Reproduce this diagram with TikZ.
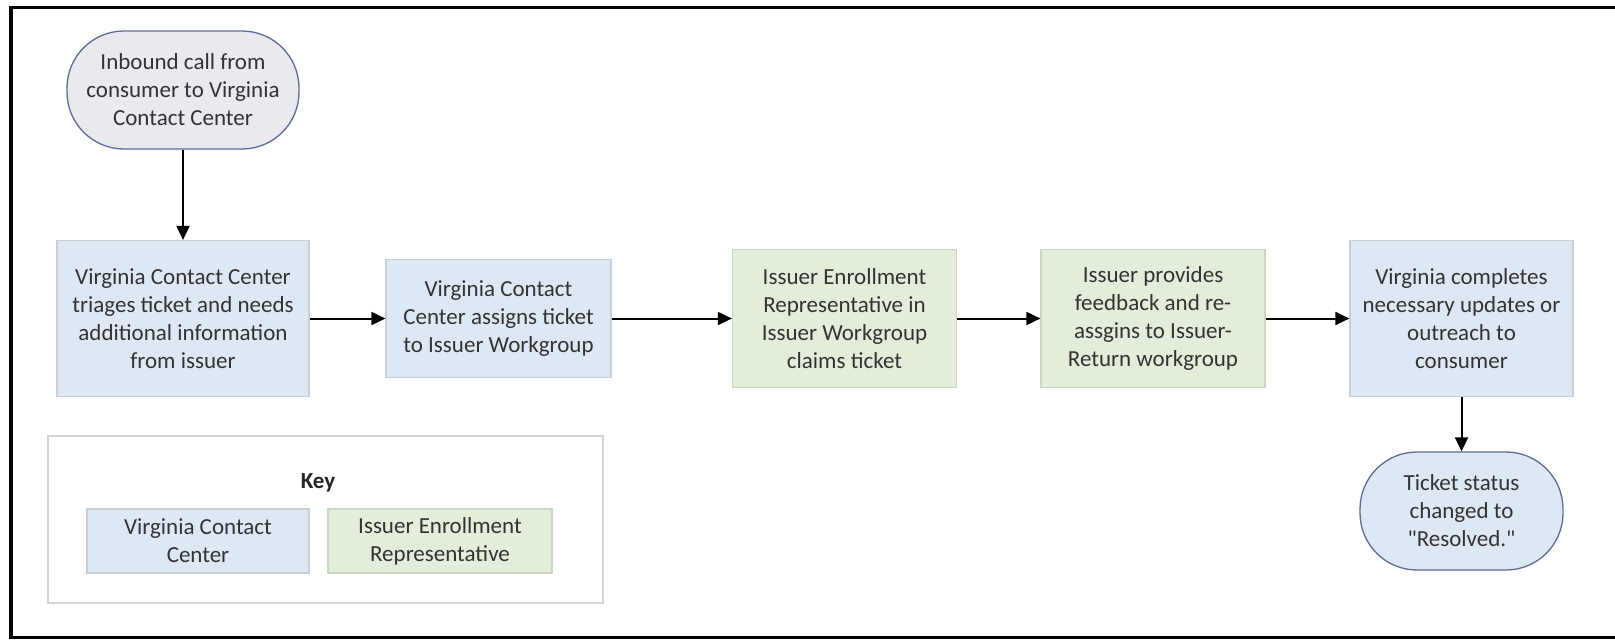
\documentclass[tikz,border=0pt]{standalone}
\usepackage{fontspec}
\setmainfont{Carlito}
\usetikzlibrary{arrows.meta}
\definecolor{txt}{HTML}{333333}
\definecolor{bluefill}{HTML}{DEE8F4}
\definecolor{blueedge}{HTML}{C9CFD6}
\definecolor{greenfill}{HTML}{E2EDDA}
\definecolor{greenedge}{HTML}{CBD5C3}
\definecolor{startfill}{HTML}{E9E9EF}
\definecolor{termedge}{HTML}{5C6C94}
\definecolor{keyedge}{HTML}{D4D4D4}
\tikzset{
  boxtext/.style={font=\fontsize{23}{28}\selectfont, text=txt, align=center, inner sep=0pt},
  bluebox/.style={boxtext, rectangle, fill=bluefill, draw=blueedge, line width=1.2pt},
  greenbox/.style={boxtext, rectangle, fill=greenfill, draw=greenedge, line width=1.2pt},
  termstart/.style={boxtext, rectangle, rounded corners=57pt, fill=startfill, draw=termedge, line width=1.3pt},
  termend/.style={boxtext, rectangle, rounded corners=57pt, fill=bluefill, draw=termedge, line width=1.3pt},
  flow/.style={line width=2pt, -{Triangle[length=14pt,width=13pt]}},
}
\begin{document}
\begin{tikzpicture}[x=1pt,y=-1pt]
\useasboundingbox (0,0) rectangle (1615,640);
\fill[white] (0,0) rectangle (1615,640);
% outer frame (right edge lies outside the picture)
\draw[line width=3.2pt] (1625,7.5) -- (11,7.5) -- (11,637.5) -- (1625,637.5);

\node[termstart, minimum width=232pt, minimum height=118pt] (start) at (183,90)
  {Inbound call from\\consumer to Virginia\\Contact Center};
\node[bluebox, minimum width=252pt, minimum height=156pt] (b1) at (183,318.5)
  {Virginia Contact Center\\triages ticket and needs\\additional information\\from issuer};
\node[bluebox, minimum width=225pt, minimum height=118pt] (b2) at (498.5,318.5)
  {Virginia Contact\\Center assigns ticket\\to Issuer Workgroup};
\node[greenbox, minimum width=224pt, minimum height=138pt] (b3) at (844.5,318.5)
  {Issuer Enrollment\\Representative in\\Issuer Workgroup\\claims ticket};
\node[greenbox, minimum width=224pt, minimum height=138pt] (b4) at (1153,318.5)
  {Issuer provides\\feedback and re-\\assgins to Issuer-\\Return workgroup};
\node[bluebox, minimum width=223pt, minimum height=156pt] (b5) at (1461.5,318.5)
  {Virginia completes\\necessary updates or\\outreach to\\consumer};
\node[termend, minimum width=203pt, minimum height=118pt] (end) at (1461.5,511)
  {Ticket status\\changed to\\\textquotedbl Resolved.\textquotedbl};

\draw[flow] (start.south) -- (b1.north);
\draw[flow] (b1.east) -- (b2.west);
\draw[flow] (b2.east) -- (b3.west);
\draw[flow] (b3.east) -- (b4.west);
\draw[flow] (b4.east) -- (b5.west);
\draw[flow] (b5.south) -- (end.north);

% key
\node[draw=keyedge, line width=1.2pt, fill=white, minimum width=555pt, minimum height=167pt, inner sep=0pt] (key) at (325.5,519.5) {};
\node[boxtext, font=\bfseries\fontsize{23}{28}\selectfont, text=black!85] (keytitle) at (318,483) {Key};
\node[bluebox, minimum width=222pt, minimum height=64pt] (kblue) at (198,541)
  {Virginia Contact\\Center};
\node[greenbox, minimum width=224pt, minimum height=64pt] (kgreen) at (440,541)
  {Issuer Enrollment\\Representative};
\end{tikzpicture}
\end{document}
